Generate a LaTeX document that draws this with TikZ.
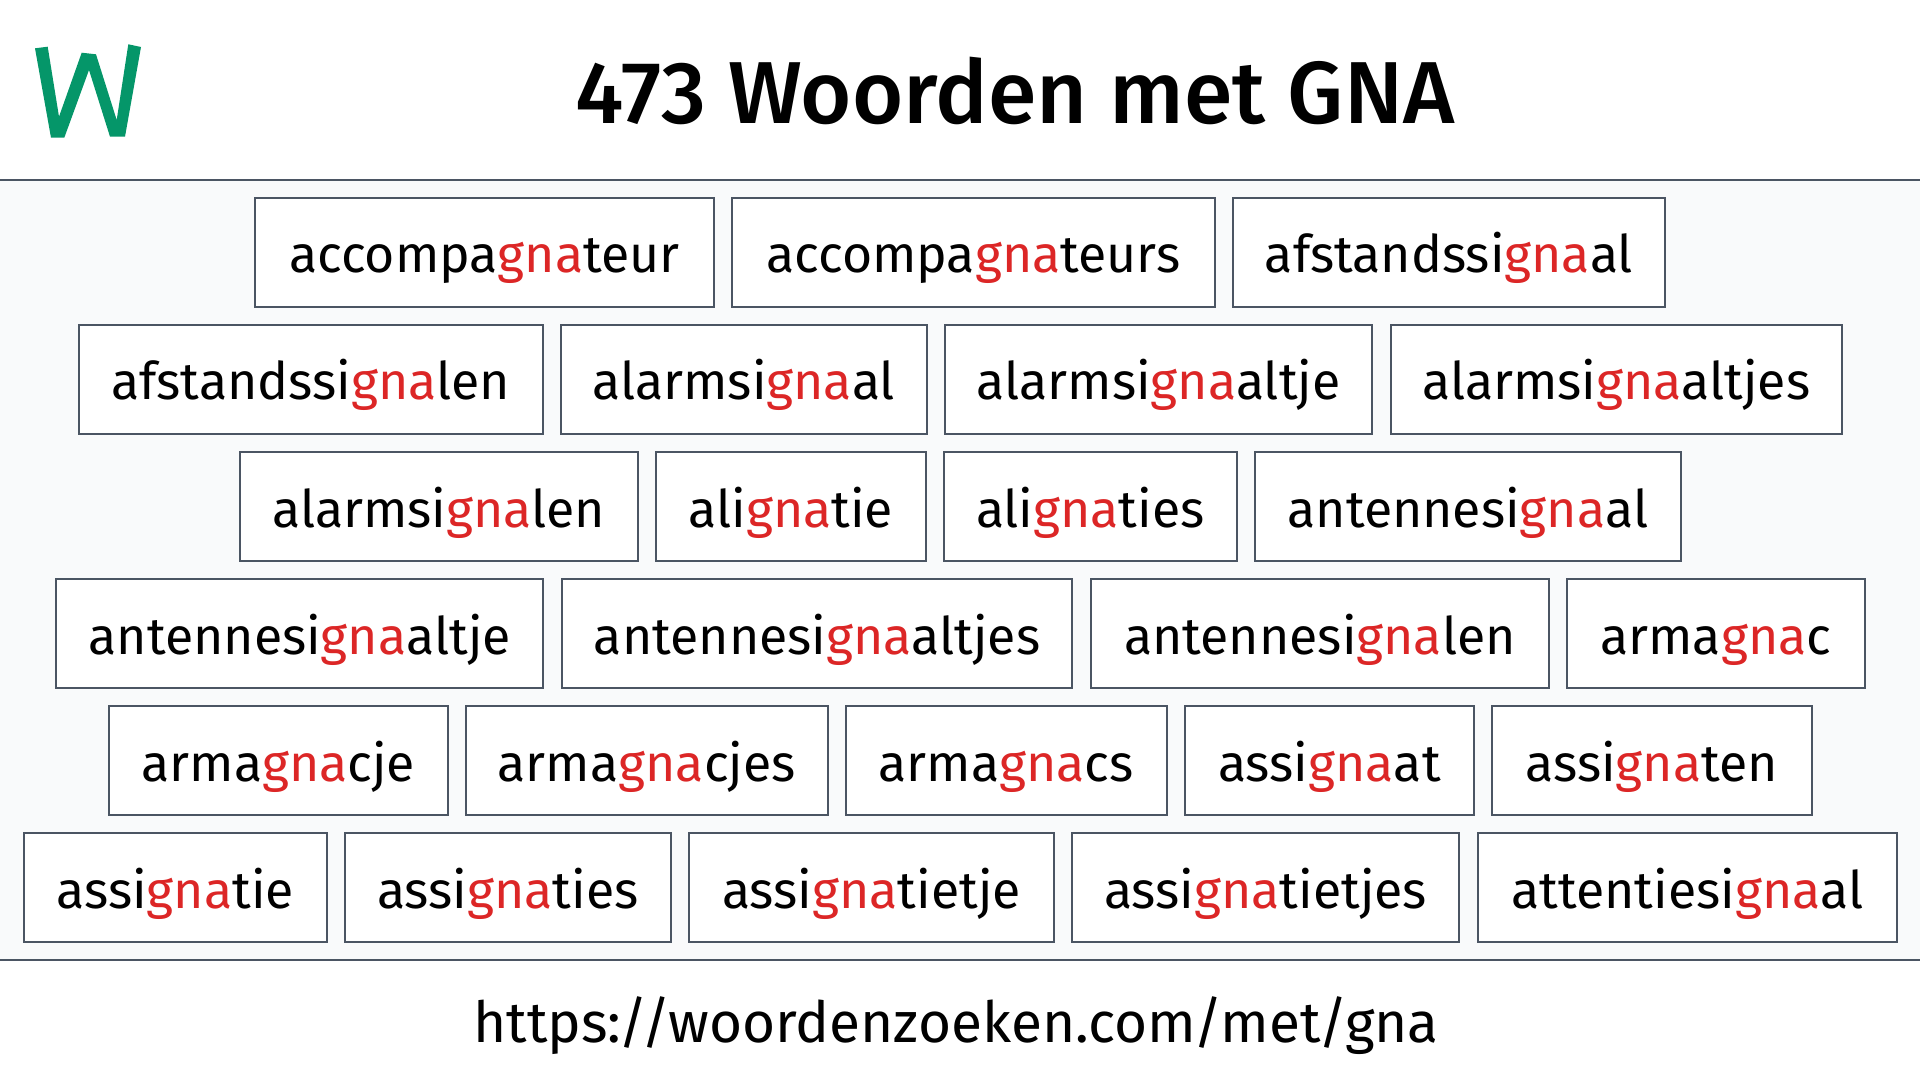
\documentclass[tikz,border=0pt]{standalone}
\usepackage{fontspec}
\setmainfont{Fira Sans}
\newfontfamily\titlefont{Fira Sans Medium}
\definecolor{rulegray}{HTML}{4B5563}
\definecolor{panelgray}{HTML}{F9FAFB}
\definecolor{hitred}{HTML}{DC2626}
\definecolor{logogreen}{HTML}{059669}
\newcommand{\hit}[1]{\textcolor{hitred}{#1}}
\tikzstyle{wordbox}=[draw=rulegray,line width=1pt,fill=white,outer sep=0pt,inner xsep=0pt,inner ysep=0pt,text height=37.35pt,text depth=16.85pt,anchor=base west,font=\fontsize{25.9}{26}\selectfont]
\tikzstyle{rule}=[draw=rulegray,line width=1pt]

\begin{document}
\begin{tikzpicture}[x=0.5pt,y=-0.5pt]
       \useasboundingbox (0,0) rectangle (1920,1080);
       \fill[white] (0,0) rectangle (1920,1080);
       \fill[panelgray] (0,180) rectangle (1920,960);
       \coordinate (ruleAl) at (0,180);
       \coordinate (ruleAr) at (1920,180);
       \coordinate (ruleBl) at (0,960);
       \coordinate (ruleBr) at (1920,960);
       \path[rule] (ruleAl) -- (ruleAr);
       \path[rule] (ruleBl) -- (ruleBr);
       % logo
       \fill[logogreen] (35,48.3) -- (47.7,46.7) -- (59,116.7) -- (81.7,52.7) -- (96,54.3) -- (116.7,120) -- (128.3,44.3) -- (141,47) -- (125,136.7) -- (110,136.7) -- (89,70) -- (64.3,137.7) -- (51,137.7) -- cycle;
       \node[anchor=base,font=\titlefont\fontsize{44}{44}\selectfont] (title) at (1015,124) {473 Woorden met GNA};
       \node[anchor=base,font=\fontsize{28.4}{28.5}\selectfont] (url) at (956,1042) {https:\kern-1.3pt/\kern-3.5pt/\kern-1.3pt woordenzoeken.com\kern-1.3pt/\kern-1.3pt met\kern-1.3pt/\kern-1.3pt gna};
       \foreach \x/\w/\y/\pre/\post in {255/458.7/273/accompa/teur, 732/482.7/273/accompa/teurs, 1233/431.8/273/afstandssi/al,
           79/463.7/400/afstandssi/len, 561/365.7/400/alarmsi/al, 945/427.3/400/alarmsi/altje, 1391/450.7/400/alarmsi/altjes,
           240/397.7/527/alarmsi/len, 656/269.7/527/ali/tie, 944/292.7/527/ali/ties, 1255/425.7/527/antennesi/al,
           56/487.3/654/antennesi/altje, 562/510.3/654/antennesi/altjes, 1091/457.7/654/antennesi/len, 1567/297.7/654/arma/c,
           109/338.7/781/arma/cje, 466/361.5/781/arma/cjes, 846/320.7/781/arma/cs, 1185/289/781/assi/at, 1492/319.7/781/assi/ten,
           24/302.7/908/assi/tie, 345/325.7/908/assi/ties, 689/365/908/assi/tietje, 1072/387.3/908/assi/tietjes, 1478/419/908/attentiesi/al} {
           \node[wordbox,minimum width=\w*0.5pt] (\pre gna\post) at (\x,\y) {\pre\hit{gna}\post};
       }
\end{tikzpicture}
\end{document}
